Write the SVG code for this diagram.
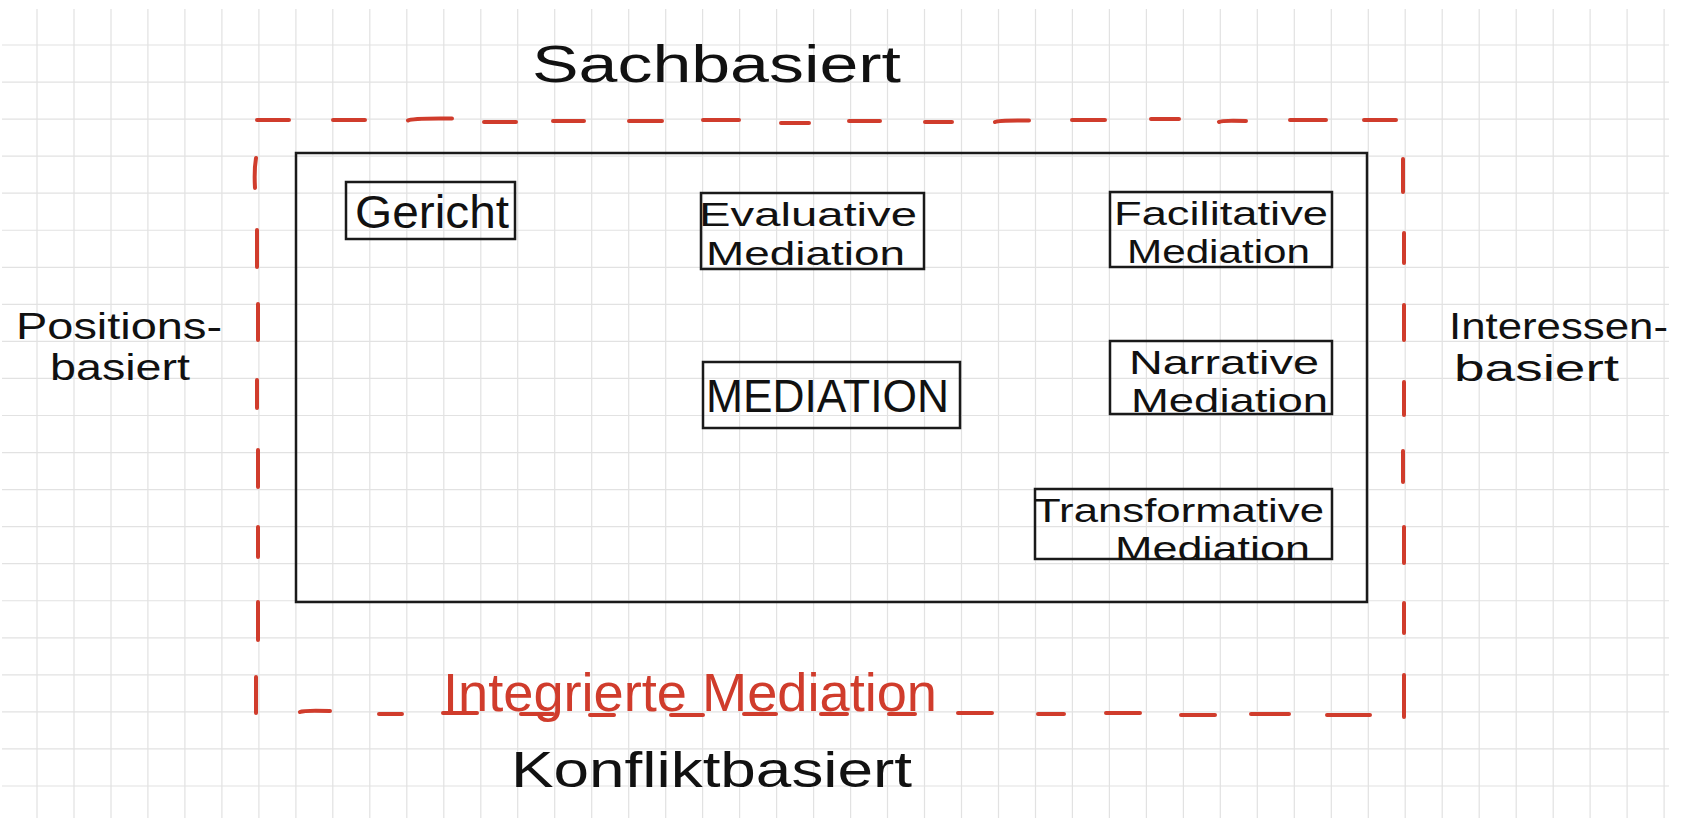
<svg xmlns="http://www.w3.org/2000/svg" width="1683" height="818" viewBox="0 0 1683 818">
<style>
.grid{stroke:#e2e2e2;stroke-width:1.2;fill:none}
.frame{stroke:#d03c2c;stroke-width:4;stroke-linecap:round;fill:none}
.box{stroke:#1a1a1a;stroke-width:2.5;fill:none}
.t{font-family:"Liberation Sans",Arial,sans-serif;fill:#111}
.red{fill:#d03c2c}
</style>
<rect x="0" y="0" width="1683" height="818" fill="#fff"/>
<g id="grid" class="grid">
<path d="M37 9V818M74 9V818M111 9V818M147.9 9V818M184.9 9V818M221.9 9V818M258.9 9V818M295.9 9V818M332.8 9V818M369.8 9V818M406.8 9V818M443.8 9V818M480.8 9V818M517.7 9V818M554.7 9V818M591.7 9V818M628.7 9V818M665.7 9V818M702.6 9V818M739.6 9V818M776.6 9V818M813.6 9V818M850.6 9V818M887.5 9V818M924.5 9V818M961.5 9V818M998.5 9V818M1035.5 9V818M1072.4 9V818M1109.4 9V818M1146.4 9V818M1183.4 9V818M1220.3 9V818M1257.3 9V818M1294.3 9V818M1331.3 9V818M1368.3 9V818M1405.2 9V818M1442.2 9V818M1479.2 9V818M1516.2 9V818M1553.2 9V818M1590.1 9V818M1627.1 9V818M1664.1 9V818"/>
<path d="M2 45H1669M2 82.05H1669M2 119.1H1669M2 156.15H1669M2 193.2H1669M2 230.25H1669M2 267.3H1669M2 304.35H1669M2 341.4H1669M2 378.45H1669M2 415.5H1669M2 452.55H1669M2 489.6H1669M2 526.65H1669M2 563.7H1669M2 600.75H1669M2 637.8H1669M2 674.85H1669M2 711.9H1669M2 748.95H1669M2 786H1669"/>
</g>
<g id="connectors">
<g id="integrated-frame" class="frame">
<path d="M257 120H289M333 120H365M408 120.5Q412 118 452 118.5M484 122H516M553 121H584M629 121H662M703 120H739M781 123H809M849 121H880M925 122H952M995 122Q999 120 1029 120.5M1072 120H1105M1151 119H1179M1219 122Q1222 120 1246 121M1290 120H1326M1364 120H1396"/>
<path d="M256 158Q254 170 255 188M257 230V267M258 304V340M257 380V408M258 450V487M258 527V557M258 602V640M256 677V713"/>
<path d="M1403 159V192M1404 233V263M1404 305V340M1404 382V415M1403 451V482M1404 527V563M1404 603V633M1404 675V717"/>
<path d="M300 712Q304 710 330 711M379 714H402M443 713H477M521 714H553M590 715H614M671 715H703M744 714H776M821 714H847M889 714H915M958 713H992M1038 714H1064M1106 713H1140M1181 715H1215M1251 714H1289M1327 715H1370"/>
</g>
</g>
<g id="outer-box">
<rect class="box" x="296" y="153" width="1071" height="449" stroke-width="2.8"/>
</g>
<g id="label-sachbasiert"><text class="t" x="532" y="82" font-size="52" textLength="369" lengthAdjust="spacingAndGlyphs">Sachbasiert</text></g>
<g id="label-positionsbasiert">
<text class="t" x="16" y="339" font-size="36" textLength="206" lengthAdjust="spacingAndGlyphs">Positions-</text>
<text class="t" x="50" y="380" font-size="36" textLength="140" lengthAdjust="spacingAndGlyphs">basiert</text>
</g>
<g id="label-interessenbasiert">
<text class="t" x="1449" y="339" font-size="36" textLength="219" lengthAdjust="spacingAndGlyphs">Interessen-</text>
<text class="t" x="1454" y="381" font-size="36" textLength="165" lengthAdjust="spacingAndGlyphs">basiert</text>
</g>
<g id="label-konfliktbasiert"><text class="t" x="511" y="787" font-size="50" textLength="401" lengthAdjust="spacingAndGlyphs">Konfliktbasiert</text></g>
<g id="label-integrierte"><text class="t red" x="443" y="711" font-size="54" textLength="494" lengthAdjust="spacingAndGlyphs">Integrierte Mediation</text></g>
<g id="node-gericht">
<rect class="box" x="346" y="182" width="169" height="57"/>
<text class="t" x="355" y="228" font-size="46" textLength="154" lengthAdjust="spacingAndGlyphs">Gericht</text>
</g>
<g id="node-evaluative">
<rect class="box" x="701" y="193" width="223" height="76"/>
<text class="t" x="699" y="226" font-size="34" textLength="218" lengthAdjust="spacingAndGlyphs">Evaluative</text>
<text class="t" x="706" y="265" font-size="34" textLength="199" lengthAdjust="spacingAndGlyphs">Mediation</text>
</g>
<g id="node-facilitative">
<rect class="box" x="1110" y="192" width="222" height="75"/>
<text class="t" x="1114" y="225" font-size="34" textLength="214" lengthAdjust="spacingAndGlyphs">Facilitative</text>
<text class="t" x="1127" y="263" font-size="34" textLength="183" lengthAdjust="spacingAndGlyphs">Mediation</text>
</g>
<g id="node-mediation">
<rect class="box" x="703" y="362" width="257" height="66"/>
<text class="t" x="706" y="412" font-size="46" textLength="243" lengthAdjust="spacingAndGlyphs">MEDIATION</text>
</g>
<g id="node-narrative">
<rect class="box" x="1110" y="341" width="222" height="73"/>
<text class="t" x="1129" y="374" font-size="33" textLength="190" lengthAdjust="spacingAndGlyphs">Narrative</text>
<text class="t" x="1131" y="412" font-size="33" textLength="197" lengthAdjust="spacingAndGlyphs">Mediation</text>
</g>
<g id="node-transformative">
<rect class="box" x="1035" y="489" width="297" height="70"/>
<text class="t" x="1034" y="522" font-size="33" textLength="290" lengthAdjust="spacingAndGlyphs">Transformative</text>
<text class="t" x="1115" y="560" font-size="33" textLength="195" lengthAdjust="spacingAndGlyphs">Mediation</text>
</g>
</svg>
